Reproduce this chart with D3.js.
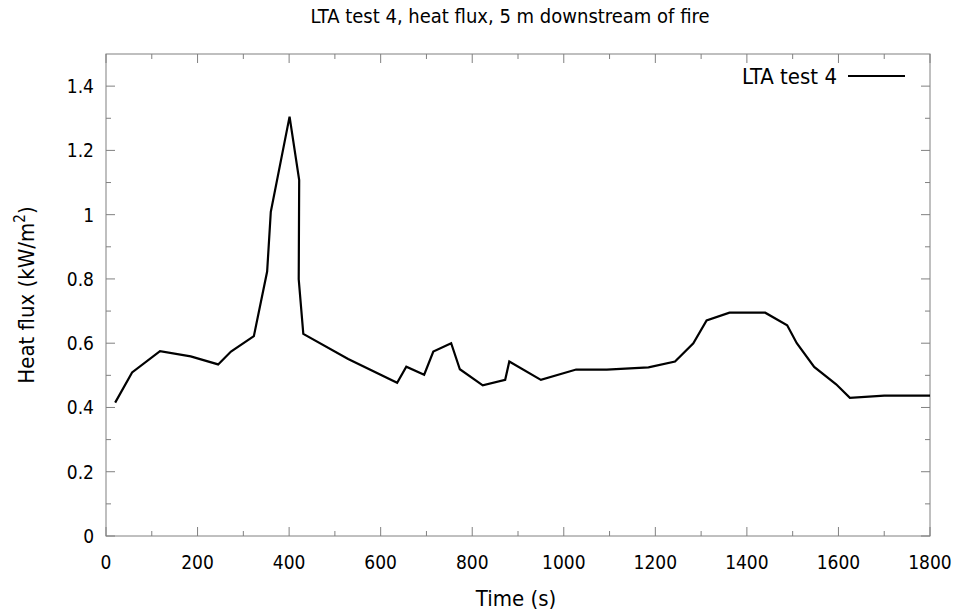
<!DOCTYPE html>
<html><head><meta charset="utf-8">
<script src="https://cdn.jsdelivr.net/npm/d3@7"></script>
<style>body{margin:0;background:#fff}svg{display:block}text{font-family:"DejaVu Sans Condensed","DejaVu Sans",sans-serif;font-stretch:condensed}</style>
</head><body>
<script>
const times = [20,57,118,185,245,273,323,352,360,401,422,421,431,529,636,656,695,715,754,773,823,872,881,950,1027,1094,1185,1243,1283,1312,1362,1440,1488,1509,1547,1595,1625,1700,1800];
const flux  = [0.415,0.509,0.575,0.559,0.534,0.574,0.622,0.823,1.009,1.305,1.108,0.799,0.629,0.551,0.477,0.527,0.502,0.574,0.600,0.519,0.469,0.486,0.543,0.486,0.518,0.518,0.525,0.543,0.600,0.671,0.695,0.695,0.656,0.600,0.526,0.472,0.430,0.437,0.437];
const xTicks = [0,200,400,600,800,1000,1200,1400,1600,1800];
const yTicks = [0,0.2,0.4,0.6,0.8,1,1.2,1.4];
const seriesName = "LTA test 4";
const title = "LTA test 4, heat flux, 5 m downstream of fire";

const W=957,H=615;
const L=106,R=930,T=54,B=536;
const svg=d3.select("body").append("svg").attr("width",W).attr("height",H);
const x=d3.scaleLinear().domain([0,1800]).range([L,R]);
const y=d3.scaleLinear().domain([0,1.5]).range([B,T]);
const axisCol="#808080";
const g=svg.append("g");
const xMinor=d3.range(100,1800,200), yMinor=d3.range(1,15,2).map(d=>d/10);
xTicks.concat(xMinor).forEach(t=>{
  const len = xTicks.includes(t)?9:5;
  g.append("line").attr("x1",x(t)).attr("x2",x(t)).attr("y1",B).attr("y2",B-len).attr("stroke",axisCol);
  g.append("line").attr("x1",x(t)).attr("x2",x(t)).attr("y1",T).attr("y2",T+len).attr("stroke",axisCol);
});
yTicks.concat(yMinor).forEach(v=>{
  const len = yTicks.includes(v)?9:5;
  g.append("line").attr("y1",y(v)).attr("y2",y(v)).attr("x1",L).attr("x2",L+len).attr("stroke",axisCol);
  g.append("line").attr("y1",y(v)).attr("y2",y(v)).attr("x1",R).attr("x2",R-len).attr("stroke",axisCol);
});
g.append("rect").attr("x",L).attr("y",T).attr("width",R-L).attr("height",B-T).attr("fill","none").attr("stroke",axisCol);

svg.selectAll(".xl").data(xTicks).enter().append("text").attr("x",d=>x(d)).attr("y",B+33)
  .attr("text-anchor","middle").attr("font-size",19).text(d=>d);
svg.selectAll(".yl").data(yTicks).enter().append("text").attr("x",L-12).attr("y",d=>y(d)+7)
  .attr("text-anchor","end").attr("font-size",19).text(d=>d);

svg.append("text").attr("x",510).attr("y",23).attr("text-anchor","middle").attr("font-size",20).text(title);
svg.append("text").attr("x",516).attr("y",606).attr("text-anchor","middle").attr("font-size",22).text("Time (s)");
const yl=svg.append("text").attr("transform","translate(34,295) rotate(-90)").attr("text-anchor","middle").attr("font-size",22);
yl.append("tspan").text("Heat flux (kW/m");
yl.append("tspan").attr("font-size",15).attr("dy",-9).text("2");
yl.append("tspan").attr("dy",9).text(")");

const line=d3.line().x((d,i)=>x(times[i])).y(d=>y(d));
svg.append("path").attr("d",line(flux)).attr("fill","none").attr("stroke","#000").attr("stroke-width",2.2).attr("stroke-linejoin","miter");

svg.append("text").attr("x",837).attr("y",84).attr("text-anchor","end").attr("font-size",22).text(seriesName);
svg.append("line").attr("x1",848).attr("x2",905).attr("y1",76).attr("y2",76).attr("stroke","#000").attr("stroke-width",2.2);
</script>
</body></html>
